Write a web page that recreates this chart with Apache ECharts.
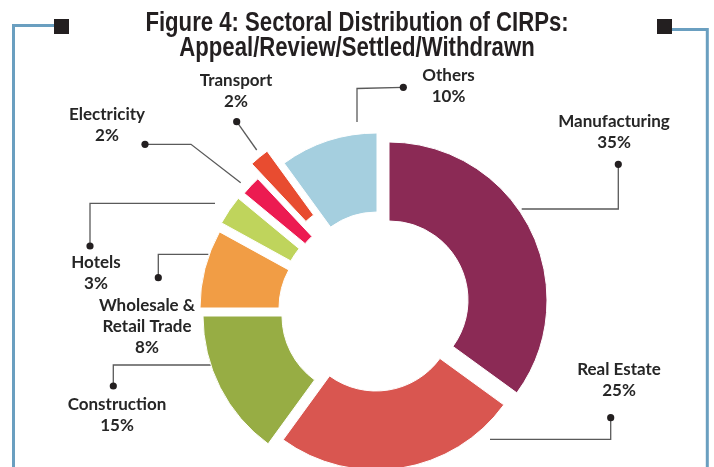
<!DOCTYPE html>
<html>
<head>
<meta charset="utf-8">
<style>
  html, body { margin: 0; padding: 0; background: #ffffff; }
  #chart { width: 714px; height: 467px; }
</style>
<script src="https://cdn.jsdelivr.net/npm/echarts@6/dist/echarts.min.js"></script>
</head>
<body>
<div id="chart"></div>
<script>
// Sector shares of CIRPs closed on appeal/review, settled or withdrawn (%)
const sectors = ['Manufacturing', 'Real Estate', 'Construction', 'Wholesale &\nRetail Trade',
                 'Hotels', 'Electricity', 'Transport', 'Others'];
const shares = [35, 25, 15, 8, 3, 2, 2, 10];
const titleLines = ['Figure 4: Sectoral Distribution of CIRPs:', 'Appeal/Review/Settled/Withdrawn'];

// Styling and layout
const colors = ['#8b2a55', '#d95650', '#97ad44', '#f19d45', '#bfd45c', '#ec1b51', '#e84c30', '#a5cfdf'];
// each slice is pulled out of the ring to its own centre
const sliceCenters = [
  [389, 300], [376, 312], [361, 316], [358, 308],
  [360, 299], [366, 294], [360, 279], [377, 291]
];
const ringRadius = [79, 158];
// label anchor: [centre x, first line centre y]
const labelPos = [
  [614, 121.5], [619, 369.5], [117, 404.5], [147, 305.5],
  [96, 263], [107, 115], [236, 81], [448.5, 76]
];
// leader lines, starting at the dot next to the label
const leaders = [
  [[618.3, 164.3], [618.3, 209], [521.7, 209]],
  [[610.7, 417.7], [610.7, 439.3], [490, 439.3]],
  [[113.3, 386], [113.3, 365], [211.7, 365]],
  [[158.3, 277.7], [158.3, 254.3], [208.3, 254.3]],
  [[90, 246], [90, 203.3], [215, 203.3]],
  [[145, 144.3], [191, 144.3], [240.7, 182.7]],
  [[236.7, 121.7], [256.7, 150]],
  [[403.3, 87.3], [357, 88.5], [357, 122]]
];

const chart = echarts.init(document.getElementById('chart'), null, { renderer: 'canvas' });

// one pie per sector so every slice can sit at its own offset
const series = sectors.map((_, i) => ({
  type: 'pie',
  silent: true,
  animation: false,
  center: sliceCenters[i],
  radius: ringRadius,
  startAngle: 90,
  clockwise: true,
  label: { show: false },
  labelLine: { show: false },
  emphasis: { disabled: true },
  data: sectors.map((name, j) => ({
    name: name,
    value: shares[j],
    itemStyle: j === i
      ? { color: colors[j], borderColor: '#ffffff', borderWidth: 1 }
      : { color: 'rgba(0,0,0,0)', borderWidth: 0 }
  }))
}));

const graphics = [];
const lineH = 21;

// title, set in a condensed bold face
titleLines.forEach((t, k) => {
  graphics.push({
    type: 'text', x: 357, y: 23.5 + k * 25, scaleX: 0.82,
    style: {
      text: t, fill: '#231f20', align: 'center', verticalAlign: 'middle',
      font: 'bold 27px "Liberation Sans", Arial, sans-serif'
    }
  });
});

// frame corners
const frameBlue = '#6a9fc0';
graphics.push(
  { type: 'polyline', shape: { points: [[54, 25.5], [13.5, 25.5], [13.5, 470]] },
    style: { stroke: frameBlue, lineWidth: 3, fill: null } },
  { type: 'polyline', shape: { points: [[672, 29.5], [707.3, 29.5], [707.3, 470]] },
    style: { stroke: frameBlue, lineWidth: 3, fill: null } },
  { type: 'rect', shape: { x: 54, y: 19, width: 15, height: 15 }, style: { fill: '#231f20' } },
  { type: 'rect', shape: { x: 657, y: 19, width: 15, height: 15 }, style: { fill: '#231f20' } }
);

// sector labels with leader lines
sectors.forEach((name, i) => {
  const pts = leaders[i];
  graphics.push({
    type: 'polyline', shape: { points: pts },
    style: { stroke: '#5a5a5a', lineWidth: 1.3, fill: null }
  });
  graphics.push({
    type: 'circle', shape: { cx: pts[0][0], cy: pts[0][1], r: 3.6 },
    style: { fill: '#231f20' }
  });
  graphics.push({
    type: 'text', x: labelPos[i][0], y: labelPos[i][1] - lineH / 2,
    style: {
      text: name + '\n' + shares[i] + '%',
      fill: '#262626', align: 'center', verticalAlign: 'top',
      lineHeight: lineH,
      font: 'bold 17px Lato, "Open Sans", sans-serif'
    }
  });
});

chart.setOption({
  backgroundColor: '#ffffff',
  animation: false,
  series: series,
  graphic: { elements: graphics }
});
</script>
</body>
</html>
